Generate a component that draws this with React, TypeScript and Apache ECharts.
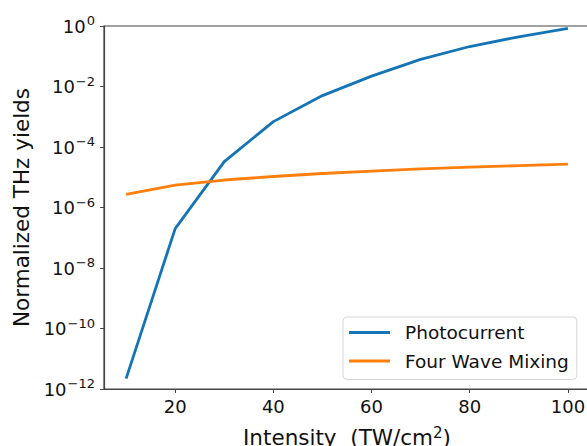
import React, { useEffect, useRef } from "react";
import * as echarts from "echarts";

const intensity = [10, 20, 30, 40, 50, 60, 70, 80, 90, 100];
const photocurrent = [2.2e-12, 2.0e-7, 3.3e-5, 6.9e-4, 5.0e-3, 2.2e-2, 7.9e-2, 0.21, 0.44, 0.84];
const fourWaveMixing = [2.7e-6, 5.5e-6, 8.1e-6, 1.06e-5, 1.33e-5, 1.6e-5, 1.88e-5, 2.15e-5, 2.42e-5, 2.7e-5];
const xTicks = [20, 40, 60, 80, 100];
const seriesNames = ["Photocurrent", "Four Wave Mixing"];

const FONT = "DejaVu Sans";
const BLUE = "#1474b6";
const ORANGE = "#ff7f0e";

export default function App() {
  const ref = useRef<HTMLDivElement>(null);
  useEffect(() => {
    const chart = echarts.init(ref.current!, null, { renderer: "svg" });
    chart.setOption({
      animation: false,
      textStyle: { fontFamily: FONT },
      grid: {
        left: 104,
        top: 26,
        width: 486,
        bottom: 57,
        outerBoundsMode: "none",
        containLabel: false,
        show: true,
        borderColor: "#444",
        borderWidth: 1.2,
        backgroundColor: "transparent",
      },
      legend: {
        left: 343,
        top: 317,
        orient: "vertical",
        padding: [6, 8, 9, 6],
        itemGap: 9.5,
        itemWidth: 41,
        itemHeight: 3,
        icon: "rect",
        backgroundColor: "#fff",
        borderColor: "#d6d6d6",
        borderWidth: 1,
        borderRadius: 4,
        textStyle: { fontFamily: FONT, fontSize: 18.5, color: "#111", padding: [0, 0, 0, 10] },
        data: seriesNames,
      },
      xAxis: {
        type: "value",
        min: 5.5,
        max: 104.5,
        splitLine: { show: false },
        axisLine: { lineStyle: { color: "#444", width: 1.2 } },
        axisTick: { show: true, customValues: xTicks, length: 4, inside: false, lineStyle: { color: "#444" } },
        axisLabel: { customValues: xTicks, fontFamily: FONT, fontSize: 18, color: "#111", margin: 8 },
        name: "Intensity  (TW/cm{s|2})",
        nameLocation: "middle",
        nameGap: 36,
        nameTextStyle: {
          fontFamily: FONT,
          fontSize: 21.5,
          color: "#111",
          rich: { s: { fontFamily: FONT, fontSize: 15, verticalAlign: "top", padding: [0, 0, 10, 0], color: "#111" } },
        },
      },
      yAxis: {
        type: "log",
        logBase: 10,
        min: 1e-12,
        max: 1,
        interval: 2,
        splitLine: { show: false },
        minorTick: { show: false },
        axisLine: { show: true, lineStyle: { color: "#444", width: 1.2 } },
        axisTick: { show: true, length: 4, lineStyle: { color: "#444" } },
        axisLabel: {
          margin: 9,
          formatter: (v: number) => {
            const e = Math.round(Math.log10(v));
            const s = e < 0 ? "\u2212" + Math.abs(e) : String(e);
            return "{b|10}{s|" + s + "}";
          },
          rich: {
            b: { fontFamily: FONT, fontSize: 18, color: "#111" },
            s: { fontFamily: FONT, fontSize: 13, color: "#111", verticalAlign: "top", padding: [0, 0, 11, 1] },
          },
        },
        name: "Normalized THz yields",
        nameLocation: "middle",
        nameGap: 70,
        nameTextStyle: { fontFamily: FONT, fontSize: 21.5, color: "#111" },
      },
      series: [
        {
          name: seriesNames[0],
          type: "line",
          data: intensity.map((x, i) => [x, photocurrent[i]]),
          showSymbol: false,
          symbol: "none",
          lineStyle: { color: BLUE, width: 2.8 },
          itemStyle: { color: BLUE },
        },
        {
          name: seriesNames[1],
          type: "line",
          data: intensity.map((x, i) => [x, fourWaveMixing[i]]),
          showSymbol: false,
          symbol: "none",
          lineStyle: { color: ORANGE, width: 2.8 },
          itemStyle: { color: ORANGE },
        },
      ],
    });
    return () => chart.dispose();
  }, []);
  return <div ref={ref} style={{ width: 587, height: 446, position: "absolute", left: 0, top: 0 }} />;
}
